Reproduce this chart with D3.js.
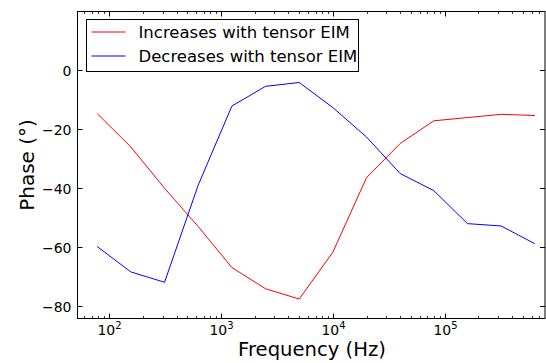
<!DOCTYPE html>
<html><head><meta charset="utf-8">
<script src="https://cdn.jsdelivr.net/npm/d3@7"></script>
<style>body{margin:0;background:#fff}svg{display:block;font-family:"DejaVu Sans",sans-serif}</style>
</head><body><svg id="c" width="546" height="363"></svg>
<script>
const freqs = [78.125,156.25,312.5,625,1250,2500,5000,10000,20000,40000,80000,160000,320000,640000];
const increases = [-14.7,-26,-40,-53,-66.9,-74.1,-77.6,-61.7,-36.4,-24.8,-17.1,-16,-14.9,-15.3];
const decreases = [-59.8,-68.4,-71.9,-38.9,-12.1,-5.4,-4.1,-12.6,-22.6,-35,-40.8,-52,-52.8,-58.8];
const seriesNames = ["Increases with tensor EIM","Decreases with tensor EIM"];
const seriesColors = ["#ff0000","#0000ff"];
const yTicks = [-80,-60,-40,-20,0];
const xTicks = [100,1000,10000,100000];
const xExp = ["2","3","4","5"];

const svg = d3.select("#c");
const L=77.5,R=545,T=11.5,B=318.5;
const x = d3.scaleLog().domain([52,790000]).range([L,R]);
const y = d3.scaleLinear().domain([-84.2,20]).range([B,T]);

const minor=[];
for(let e=1;e<=5;e++) for(let m=2;m<=9;m++){const v=m*Math.pow(10,e); if(v>=52&&v<=790000) minor.push(v);}
const g=svg.append("g");
minor.forEach(v=>{const px=Math.round(x(v))+0.5;
 g.append("line").attr("x1",px).attr("x2",px).attr("y1",B).attr("y2",B-2.5).attr("stroke","#000").attr("stroke-width",0.8);
 g.append("line").attr("x1",px).attr("x2",px).attr("y1",T).attr("y2",T+2.5).attr("stroke","#000").attr("stroke-width",0.8);
});
xTicks.forEach((v,i)=>{const px=Math.round(x(v))+0.5;
 g.append("line").attr("x1",px).attr("x2",px).attr("y1",B).attr("y2",B-5).attr("stroke","#000").attr("stroke-width",1);
 g.append("line").attr("x1",px).attr("x2",px).attr("y1",T).attr("y2",T+5).attr("stroke","#000").attr("stroke-width",1);
 const t=g.append("text").attr("x",px).attr("y",B+16).attr("text-anchor","middle").attr("font-size",14);
 t.append("tspan").text("10");
 t.append("tspan").attr("font-size",10).attr("dy",-6).text(xExp[i]);
});
yTicks.forEach(v=>{const py=Math.round(y(v))+0.5;
 g.append("line").attr("x1",L).attr("x2",L+5).attr("y1",py).attr("y2",py).attr("stroke","#000").attr("stroke-width",1);
 g.append("line").attr("x1",R).attr("x2",R-5).attr("y1",py).attr("y2",py).attr("stroke","#000").attr("stroke-width",1);
 g.append("text").attr("x",L-6).attr("y",py+5).attr("text-anchor","end").attr("font-size",14).text(d3.format("")(v).replace("-","\u2212"));
});

const line=d3.line().x((d,i)=>x(freqs[i])).y(d=>y(d));
[increases,decreases].forEach((s,k)=>{
 svg.append("path").datum(s).attr("d",line).attr("fill","none").attr("stroke",seriesColors[k]).attr("stroke-width",1);
});

svg.append("rect").attr("x",L).attr("y",T).attr("width",R-L).attr("height",B-T).attr("fill","none").attr("stroke","#000").attr("stroke-width",1);

svg.append("text").attr("x",312).attr("y",356).attr("text-anchor","middle").attr("font-size",19.6).text("Frequency (Hz)");
svg.append("text").attr("transform",`translate(34,${(T+B)/2}) rotate(-90)`).attr("text-anchor","middle").attr("font-size",20).text("Phase (°)");

const lg=svg.append("g");
lg.append("rect").attr("x",86.5).attr("y",19.5).attr("width",272).attr("height",52).attr("fill","#fff").attr("stroke","#000").attr("stroke-width",1);
seriesNames.forEach((n,k)=>{const yy=[32,56][k];
 lg.append("line").attr("x1",91.5).attr("x2",125.5).attr("y1",yy).attr("y2",yy).attr("stroke",seriesColors[k]).attr("stroke-width",1);
 lg.append("text").attr("x",138.5).attr("y",yy+6.3).attr("font-size",16.5).text(n);
});
</script></body></html>
